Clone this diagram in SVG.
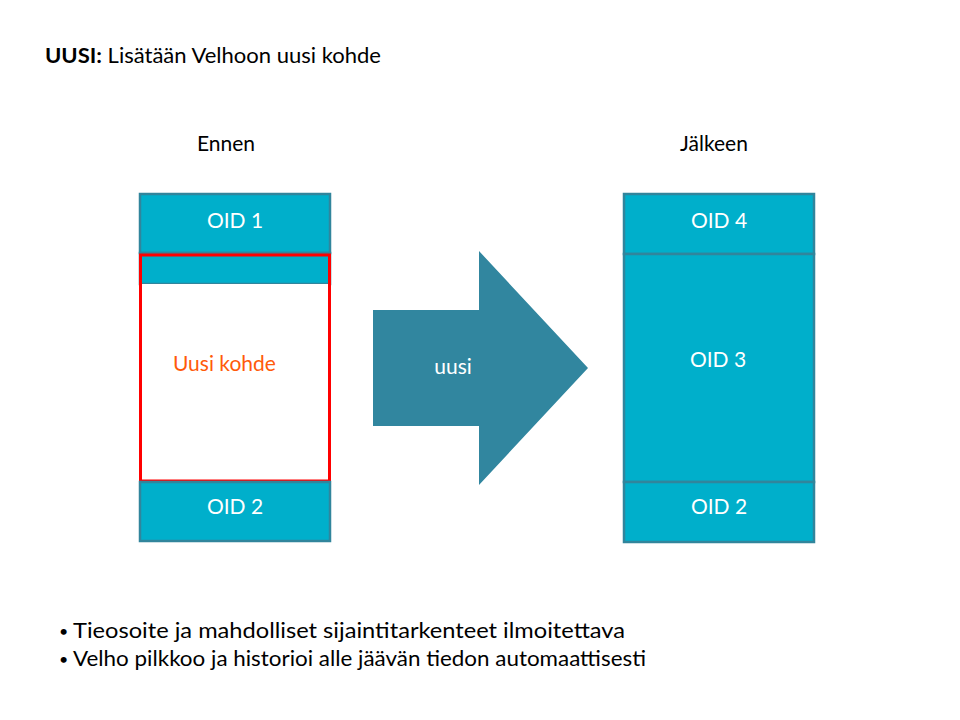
<svg xmlns="http://www.w3.org/2000/svg" width="960" height="720" viewBox="0 0 960 720">
<style>
text{font-family:Lato,"Liberation Sans",sans-serif;font-size:21px;}
.box{fill:#00AFCB;stroke:#31859C;stroke-width:2.5;}
.w{fill:#FFFFFF;text-anchor:middle;}
.k{fill:#000000;}
.b{font-size:16px;}
</style>
<rect width="960" height="720" fill="#FFFFFF"/>
<text class="k" x="45" y="63" textLength="336" lengthAdjust="spacingAndGlyphs"><tspan font-weight="bold">UUSI:</tspan> Lisätään Velhoon uusi kohde</text>
<text class="k" x="226" y="151" text-anchor="middle">Ennen</text>
<text class="k" x="714" y="151" text-anchor="middle">Jälkeen</text>
<g id="before">
<g id="oid1"><rect class="box" x="140" y="194" width="190" height="59"/><text class="w" x="235" y="228">OID 1</text></g>
<g id="strip"><rect class="box" x="140" y="253" width="190" height="31"/></g>
<g id="uusi-kohde"><rect x="140" y="284" width="190" height="197" fill="#FFFFFF"/><rect x="140.5" y="255" width="189" height="226" fill="none" stroke="#FF0000" stroke-width="3"/><text x="173" y="371" fill="#FF5A0A">Uusi kohde</text></g>
<g id="oid2-before"><rect class="box" x="140" y="482" width="190" height="59"/><text class="w" x="235" y="514">OID 2</text></g>
</g>
<g id="connectors">
<polygon points="373,310 479,310 479,251 588,368 479,485 479,426 373,426" fill="#31869F"/>
<text class="w" x="453" y="374">uusi</text>
</g>
<g id="after">
<g id="oid4"><rect class="box" x="624" y="194" width="190" height="60"/><text class="w" x="719" y="228">OID 4</text></g>
<g id="oid3"><rect class="box" x="624" y="254" width="190" height="228"/><text class="w" x="718" y="367">OID 3</text></g>
<g id="oid2-after"><rect class="box" x="624" y="482" width="190" height="60"/><text class="w" x="719" y="514">OID 2</text></g>
</g>
<text class="k b" x="59" y="637">•</text>
<text class="k" x="73" y="638" textLength="552" lengthAdjust="spacingAndGlyphs">Tieosoite ja mahdolliset sijaintitarkenteet ilmoitettava</text>
<text class="k b" x="59" y="665">•</text>
<text class="k" x="73" y="666" textLength="573" lengthAdjust="spacingAndGlyphs">Velho pilkkoo ja historioi alle jäävän tiedon automaattisesti</text>
</svg>
